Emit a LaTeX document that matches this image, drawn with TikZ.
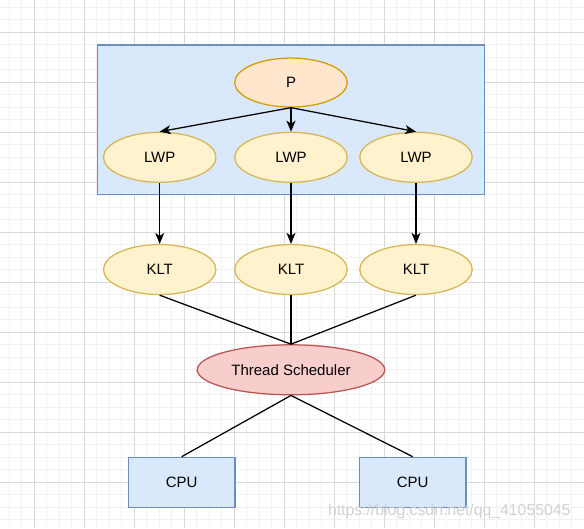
\documentclass[tikz,border=0pt]{standalone}
\usepackage{fontspec}
\setmainfont{Liberation Sans}
\usepackage{xcolor}
\usepackage{tikz}
\usetikzlibrary{arrows.meta,positioning,shapes.geometric}
\definecolor{blueFill}{HTML}{DAE8FC}
\definecolor{blueDraw}{HTML}{6C8EBF}
\definecolor{orangeFill}{HTML}{FFE6CC}
\definecolor{orangeDraw}{HTML}{D79B00}
\definecolor{yellowFill}{HTML}{FFF2CC}
\definecolor{yellowDraw}{HTML}{D6B656}
\definecolor{redFill}{HTML}{F8CECC}
\definecolor{redDraw}{HTML}{B85450}
\tikzset{
    gridminor/.style={draw=black!5,line width=0.9pt},
    gridmajor/.style={draw=black!15,line width=0.9pt},
    frame/.style={rectangle,draw=blueDraw,fill=blueFill,line width=1.25pt,
        minimum width=387pt,minimum height=149.3pt,inner sep=0pt},
    basenode/.style={line width=1.25pt,inner sep=0pt,font=\fontsize{15}{18}\selectfont},
    proc/.style={basenode,ellipse,draw=orangeDraw,fill=orangeFill,minimum width=112.5pt,minimum height=49pt},
    lwp/.style={basenode,ellipse,draw=yellowDraw,fill=yellowFill,minimum width=112.5pt,minimum height=50pt},
    klt/.style={lwp},
    sched/.style={basenode,ellipse,draw=redDraw,fill=redFill,minimum width=187.5pt,minimum height=50pt},
    cpu/.style={basenode,rectangle,draw=blueDraw,fill=blueFill,minimum width=106.5pt,minimum height=50pt},
    arr/.style={-{Stealth[length=11pt,width=9pt,inset=3pt]},line width=1.25pt},
    link/.style={line width=1.25pt},
    watermark/.style={text=black!18,font=\fontsize{15.8}{19}\selectfont}
}

\begin{document}
\begin{tikzpicture}[x=1pt,y=-1pt]
    \useasboundingbox (0,0) rectangle (584,528);
    \foreach \g in {0,...,46} {
        \draw[gridminor] (9.3+12.5*\g,0) -- (9.3+12.5*\g,528);
        \draw[gridminor] (0,7.3+12.5*\g) -- (584,7.3+12.5*\g);
    }
    \foreach \g in {0,...,11} {
        \draw[gridmajor] (34.3+50*\g,0) -- (34.3+50*\g,528);
        \draw[gridmajor] (0,32.3+50*\g) -- (584,32.3+50*\g);
    }

    \node[frame] (box) at (290.8,119.65) {};
    \node[lwp] (lwpa) at (159.7,157.3) {LWP};
    \node[lwp] (lwpb) at (291,157.3) {LWP};
    \node[lwp] (lwpc) at (416,157.3) {LWP};
    \node[proc,above=24pt of lwpb] (proc) {P};
    \node[klt,below=61pt of lwpa] (klta) {KLT};
    \node[klt,below=61pt of lwpb] (kltb) {KLT};
    \node[klt,below=61pt of lwpc] (kltc) {KLT};
    \node[sched,below=49pt of kltb] (sched) {Thread Scheduler};
    \node[cpu] (cpua) at (181.7,482.3) {CPU};
    \node[cpu] (cpub) at (412.7,482.3) {CPU};
    \node[watermark,anchor=base east] (url) at (574,515) {https://blog.csdn.net/qq\_41055045};

    \draw[arr] (proc.south) -- (lwpa.north);
    \draw[arr] (proc.south) -- (lwpb.north);
    \draw[arr] (proc.south) -- (lwpc.north);
    \draw[arr] (lwpa) -- (klta);
    \draw[arr] (lwpb) -- (kltb);
    \draw[arr] (lwpc) -- (kltc);
    \draw[link] (klta.south) -- (sched.north);
    \draw[link] (kltb.south) -- (sched.north);
    \draw[link] (kltc.south) -- (sched.north);
    \draw[link] (sched.south) -- (cpua.north);
    \draw[link] (sched.south) -- (cpub.north);
\end{tikzpicture}
\end{document}
